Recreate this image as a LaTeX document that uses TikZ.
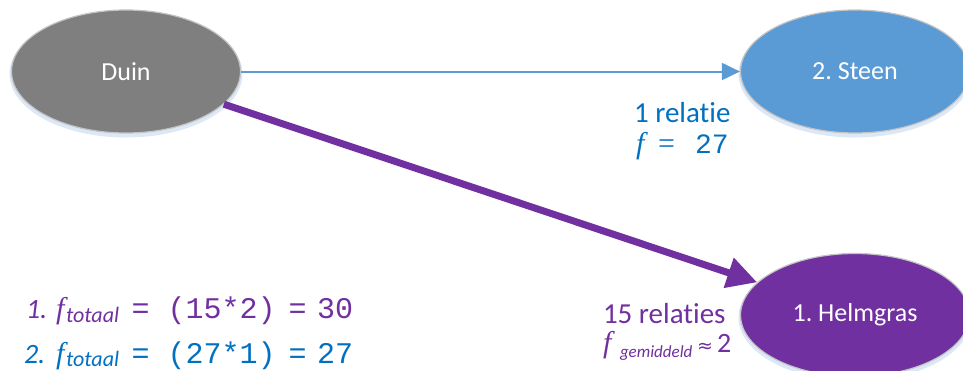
\documentclass[tikz,border=0pt]{standalone}
\usepackage{fontspec}
\setmainfont[Ligatures=NoCommon]{Carlito}
\newfontfamily\monofnt{Liberation Mono}
\newfontfamily\mathfnt{Liberation Serif}
\newfontfamily\symfnt{DejaVu Sans}
\usetikzlibrary{shapes.geometric,arrows.meta}
\definecolor{duingray}{HTML}{7F7F7F}
\definecolor{steenblue}{HTML}{5B9BD5}
\definecolor{helmpurple}{HTML}{7030A0}
\definecolor{txtblue}{HTML}{0070C0}
\definecolor{edgegray}{HTML}{C4C4C4}
\definecolor{glow}{HTML}{DCE8F6}
\begin{document}
\begin{tikzpicture}[x=1pt,y=-1pt,
  entity/.style={ellipse, minimum width=229pt, minimum height=123pt, inner sep=0pt,
    draw=edgegray, line width=1.2pt, text=white, font=\fontsize{26}{30}\selectfont},
  piece/.style={anchor=base west, inner sep=0pt, outer sep=0pt},
  lbl/.style={piece, font=\fontsize{29}{34}\selectfont},
  mathf/.style={piece, font=\fontsize{30}{34}\selectfont\mathfnt\itshape},
  eqs/.style={piece, font=\fontsize{30}{34}\selectfont\mathfnt},
  sub/.style={piece, font=\fontsize{22}{26}\selectfont\itshape},
  monob/.style={piece, font=\fontsize{30}{34}\selectfont\monofnt},
  thin/.style={line width=2pt, steenblue, -{Triangle[length=18pt,width=17pt]}},
  thick/.style={line width=7pt, helmpurple, -{Triangle[length=30pt,width=30pt]}}]
\useasboundingbox (0,0) rectangle (963,370);
\fill[white] (0,0) rectangle (963,370);
% soft glow under the ellipses
\fill[glow] (126,74) ellipse [x radius=116.5pt, y radius=63.5pt];
\fill[glow] (855,74) ellipse [x radius=116.5pt, y radius=63.5pt];
\fill[glow] (855,317.5) ellipse [x radius=116.5pt, y radius=63.5pt];
% entities
\node[entity, fill=duingray] (duin) at (126,71.5) {Duin};
\node[entity, fill=steenblue] (steen) at (855,71.5) {2.\ Steen};
\node[entity, fill=helmpurple] (helm) at (855,315) {1.\ Helmgras};
% connectors
\draw[thin] (duin) -- (steen);
\draw[thick] (duin) -- (helm);
% label for Steen
\node[lbl, text=txtblue] (rel1) at (634,122) {1 relatie};
\node[mathf, text=txtblue] (rel1f) at (636,153) {f};
\node[eqs, text=txtblue] (rel1eq) at (658,153) {=};
\node[piece, text=txtblue, font=\fontsize{28}{34}\selectfont\monofnt] (rel1n) at (695,153) {27};
% label for Helmgras
\node[lbl, text=helmpurple] (rel15) at (603,323) {15 relaties};
\node[mathf, text=helmpurple] (rel15f) at (603,352) {f};
\node[piece, text=helmpurple, font=\fontsize{17}{20}\selectfont\itshape] (rel15s) at (620,357) {gemiddeld};
\node[piece, text=helmpurple, font=\fontsize{19}{24}\selectfont\symfnt] (rel15ap) at (697,352) {≈};
\node[piece, text=helmpurple, font=\fontsize{28}{34}\selectfont] (rel15n) at (717,352) {2};
% formula line 1
\node[piece, text=helmpurple, font=\fontsize{28}{34}\selectfont\itshape] (l1a) at (26,318) {1.};
\node[mathf, text=helmpurple] (l1f) at (56,318) {f};
\node[sub, text=helmpurple] (l1s) at (66,322) {totaal};
\node[monob, text=helmpurple] (l1eq) at (131.5,318) {=};
\node[monob, text=helmpurple] (l1p) at (167.5,318) {(15*2)};
\node[monob, text=helmpurple] (l1eq2) at (288.5,318) {=};
\node[monob, text=helmpurple] (l1n) at (317,318) {30};
% formula line 2
\node[piece, text=txtblue, font=\fontsize{28}{34}\selectfont\itshape] (l2a) at (24,363) {2.};
\node[mathf, text=txtblue] (l2f) at (56,363) {f};
\node[sub, text=txtblue] (l2s) at (66,366) {totaal};
\node[monob, text=txtblue] (l2eq) at (131.5,363) {=};
\node[monob, text=txtblue] (l2p) at (167.5,363) {(27*1)};
\node[monob, text=txtblue] (l2eq2) at (288.5,363) {=};
\node[monob, text=txtblue] (l2n) at (317,363) {27};
\end{tikzpicture}
\end{document}
